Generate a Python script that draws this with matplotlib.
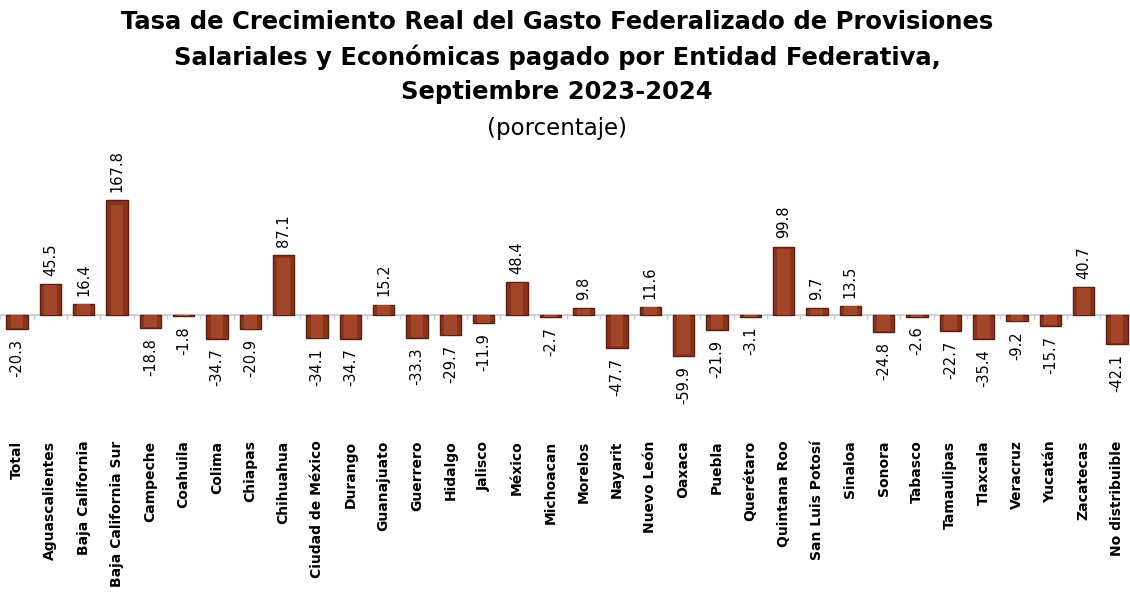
import numpy as np
import matplotlib.pyplot as plt

estados = ["Total", "Aguascalientes", "Baja California", "Baja California Sur",
           "Campeche", "Coahuila", "Colima", "Chiapas", "Chihuahua",
           "Ciudad de México", "Durango", "Guanajuato", "Guerrero", "Hidalgo",
           "Jalisco", "México", "Michoacan", "Morelos", "Nayarit", "Nuevo León",
           "Oaxaca", "Puebla", "Querétaro", "Quintana Roo", "San Luis Potosí",
           "Sinaloa", "Sonora", "Tabasco", "Tamaulipas", "Tlaxcala", "Veracruz",
           "Yucatán", "Zacatecas", "No distribuible"]
tasa = [-20.3, 45.5, 16.4, 167.8, -18.8, -1.8, -34.7, -20.9, 87.1, -34.1,
        -34.7, 15.2, -33.3, -29.7, -11.9, 48.4, -2.7, 9.8, -47.7, 11.6,
        -59.9, -21.9, -3.1, 99.8, 9.7, 13.5, -24.8, -2.6, -22.7, -35.4,
        -9.2, -15.7, 40.7, -42.1]

plt.rcParams["font.family"] = "DejaVu Sans"

fig = plt.figure(figsize=(11.3, 6.03), dpi=100)
ax = fig.add_axes([0.0, 0.2786, 1.0, 0.4892])

x = np.arange(len(estados))
vals = np.array(tasa)

# bar body + lighter center strip to fake the bevel look
ax.bar(x, vals, width=0.64, color="#8a3420", edgecolor="#5a1e0f", linewidth=1.0, zorder=3)
ax.bar(x, vals * 0.96, width=0.38, color="#a2462a", linewidth=0, zorder=4)

ax.axhline(0, color="#c8c8c8", linewidth=1.2, zorder=2)
ax.vlines(np.arange(len(estados) + 1) - 0.5, -6, 0, color="#c8c8c8", linewidth=1.0, zorder=2)

for xi, v in zip(x, vals):
    if v >= 0:
        ax.annotate(f"{v:.1f}", (xi, v), xytext=(0, 6), textcoords="offset points",
                    rotation=90, ha="center", va="bottom", fontsize=10.5)
    else:
        ax.annotate(f"{v:.1f}", (xi, v), xytext=(0, -7), textcoords="offset points",
                    rotation=90, ha="center", va="top", fontsize=10.5)

ax.set_xlim(-0.51, 33.39)
ax.set_ylim(-175, 255.5)
ax.set_xticks(x)
ax.set_xticklabels(estados, rotation=90, fontsize=10, fontweight="bold")
ax.tick_params(axis="x", length=0, pad=4)
ax.set_yticks([])
for s in ax.spines.values():
    s.set_visible(False)

fig.text(0.493, 0.963, "Tasa de Crecimiento Real del Gasto Federalizado de Provisiones",
         ha="center", va="center", fontsize=17.5, fontweight="bold")
fig.text(0.493, 0.905, "Salariales y Económicas pagado por Entidad Federativa,",
         ha="center", va="center", fontsize=17.5, fontweight="bold")
fig.text(0.493, 0.847, "Septiembre 2023-2024",
         ha="center", va="center", fontsize=17.5, fontweight="bold")
fig.text(0.493, 0.787, "(porcentaje)", ha="center", va="center", fontsize=16.5)

plt.savefig("out.png", dpi=100)
